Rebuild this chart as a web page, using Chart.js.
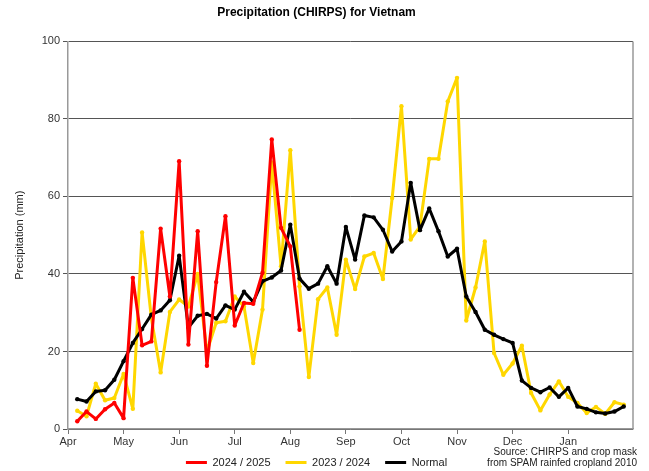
<!DOCTYPE html>
<html>
<head>
<meta charset="utf-8">
<script src="https://cdn.jsdelivr.net/npm/chart.js@4.4.0/dist/chart.umd.min.js"></script>
<style>
  html, body { margin: 0; padding: 0; background: #fff; }
  #wrap { width: 649px; height: 471px; }
</style>
</head>
<body>
<div id="wrap"><canvas id="chart" width="649" height="471"></canvas></div>
<script>
// Month tick labels (one tick every 6 pentads)
const months = ['Apr', 'May', 'Jun', 'Jul', 'Aug', 'Sep', 'Oct', 'Nov', 'Dec', 'Jan'];

// Pentadal precipitation (mm), starting Apr pentad 1
const season2425 = [2.0, 4.5, 2.6, 5.1, 6.7, 2.8, 39.0, 21.6, 22.6, 51.7, 34.2, 69.1,
  21.8, 51.0, 16.3, 37.9, 54.9, 26.7, 32.5, 32.3, 40.3, 74.7, 51.9, 47.1, 25.6];

const season2324 = [4.7, 3.3, 11.7, 7.4, 8.0, 14.2, 5.2, 50.7, 28.6, 14.6, 30.2, 33.4,
  31.6, 40.0, 20.0, 27.4, 27.8, 34.2, 31.6, 17.0, 30.8, 68.8, 42.0, 71.9, 36.8, 13.4,
  33.5, 36.5, 24.3, 43.7, 36.1, 44.5, 45.4, 38.7, 59.6, 83.3, 48.9, 52.3, 69.7, 69.7,
  84.5, 90.6, 28.0, 36.5, 48.4, 19.6, 14.0, 16.9, 21.5, 9.3, 4.8, 8.9, 12.3, 8.3,
  6.7, 4.1, 5.7, 3.9, 6.9, 6.3];

const normal = [7.7, 7.1, 9.7, 10.0, 12.7, 17.5, 22.2, 25.8, 29.5, 30.6, 33.2, 44.7,
  26.2, 29.2, 29.7, 28.5, 31.9, 30.8, 35.4, 32.8, 38.1, 39.1, 40.9, 52.7, 38.8, 36.2,
  37.5, 42.0, 37.5, 52.1, 43.7, 55.1, 54.6, 51.4, 45.8, 48.4, 63.5, 51.3, 56.9, 51.0,
  44.5, 46.5, 34.2, 30.2, 25.6, 24.3, 23.2, 22.2, 12.5, 10.6, 9.5, 10.7, 8.3, 10.6,
  5.8, 5.2, 4.3, 4.0, 4.5, 5.8];

const yTicks = [0, 20, 40, 60, 80, 100];

const toPoints = vals => vals.map((v, i) => ({ x: i + 1, y: v }));

const fontFam = "'Liberation Sans', Arial, sans-serif";

// source note + right border; x scale given room for its labels
const extras = {
  id: 'extras',
  afterLayout(chart) {
    const x = chart.scales.x;
    x.bottom = x.top + 24;
  },
  afterDraw(chart) {
    const c = chart.ctx;
    const a = chart.chartArea;
    c.save();
    c.strokeStyle = '#999';
    c.lineWidth = 1.5;
    c.beginPath();
    c.moveTo(a.right, a.top);
    c.lineTo(a.right, a.bottom);
    c.stroke();
    c.fillStyle = '#222';
    c.font = '10px ' + fontFam;
    c.textAlign = 'right';
    c.textBaseline = 'middle';
    c.fillText('Source: CHIRPS and crop mask', 637, 452);
    c.fillText('from SPAM rainfed cropland 2010', 637, 463);
    c.restore();
  }
};

const lineStyle = {
  borderWidth: 3,
  borderJoinStyle: 'round',
  borderCapStyle: 'round',
  pointRadius: 2.2,
  pointBorderWidth: 0
};

new Chart(document.getElementById('chart').getContext('2d'), {
  type: 'line',
  data: {
    datasets: [
      Object.assign({
        label: '2024 / 2025',
        data: toPoints(season2425),
        borderColor: '#FF0000',
        backgroundColor: '#FF0000',
        order: 0
      }, lineStyle),
      Object.assign({
        label: '2023 / 2024',
        data: toPoints(season2324),
        borderColor: '#FFD700',
        backgroundColor: '#FFD700',
        order: 2
      }, lineStyle),
      Object.assign({
        label: 'Normal',
        data: toPoints(normal),
        borderColor: '#000000',
        backgroundColor: '#000000',
        order: 1
      }, lineStyle)
    ]
  },
  options: {
    responsive: false,
    animation: false,
    layout: { padding: { left: 0, right: 16, top: 0, bottom: -7 } },
    plugins: {
      title: {
        display: true,
        text: 'Precipitation (CHIRPS) for Vietnam',
        color: '#000',
        font: { family: fontFam, size: 12, weight: 'bold' },
        padding: { top: 5, bottom: 22 }
      },
      legend: {
        position: 'bottom',
        labels: {
          usePointStyle: true,
          pointStyle: 'line',
          pointStyleWidth: 21,
          boxHeight: 3,
          color: '#222',
          font: { family: fontFam, size: 11 },
          padding: 15,
          sort: (a, b) => a.datasetIndex - b.datasetIndex,
          generateLabels: chart =>
            Chart.defaults.plugins.legend.labels.generateLabels(chart)
              .map(item => Object.assign(item, { lineWidth: 3 }))
        }
      },
      tooltip: { enabled: false }
    },
    scales: {
      x: {
        type: 'linear',
        min: 0,
        max: 61,
        afterBuildTicks: scale => {
          scale.ticks = months.map((m, i) => ({ value: i * 6 }));
        },
        afterFit: scale => { scale.height = 13; },
        ticks: {
          autoSkip: false,
          maxRotation: 0,
          padding: 1,
          color: '#333',
          font: { family: fontFam, size: 11 },
          callback: v => months[v / 6]
        },
        grid: { drawOnChartArea: false, drawTicks: true, tickLength: 5, color: '#777' },
        border: { color: '#999', width: 1.5 }
      },
      y: {
        min: 0,
        max: 100,
        afterBuildTicks: scale => {
          scale.ticks = yTicks.map(v => ({ value: v }));
        },
        afterFit: scale => { scale.width = 68; },
        ticks: {
          padding: 3,
          color: '#333',
          font: { family: fontFam, size: 11 }
        },
        grid: { color: '#555', lineWidth: 1, tickLength: 5 },
        border: { color: '#999', width: 1.5 },
        title: {
          display: true,
          text: 'Precipitation (mm)',
          color: '#222',
          font: { family: fontFam, size: 11 },
          padding: { top: 13, bottom: 0 }
        }
      }
    }
  },
  plugins: [extras]
});
</script>
</body>
</html>
